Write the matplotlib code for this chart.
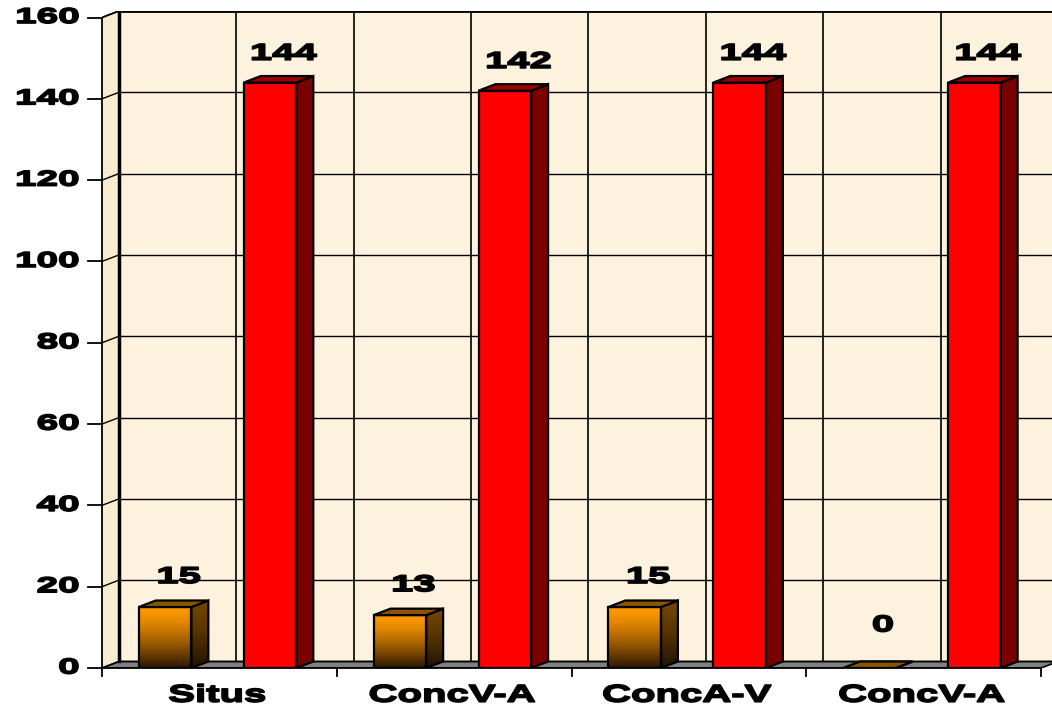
import numpy as np
import matplotlib.pyplot as plt
from matplotlib.patches import Polygon, Rectangle
from matplotlib import patheffects
from matplotlib.transforms import Affine2D

categories = ["Situs", "ConcV-A", "ConcA-V", "ConcV-A"]
series_a = [15, 13, 15, 0]
series_b = [144, 142, 144, 144]
yticks = [0, 20, 40, 60, 80, 100, 120, 140, 160]

# 3d look: depth offset in data units
ddx = 0.072
ddy = 1.6
bar_w = 0.224
off_a = 0.157
off_b = 0.604


class HStretch(patheffects.AbstractPathEffect):
    # widen glyphs horizontally and thicken them a bit (the original text is stretched)
    def __init__(self, sx, anchor="center", lw=1.0):
        super().__init__()
        self.sx = sx
        self.anchor = anchor
        self.lw = lw

    def draw_path(self, renderer, gc, tpath, affine, rgbFace=None):
        v = tpath.vertices
        if len(v) == 0:
            return
        if self.anchor == "right":
            cx = v[:, 0].max()
        else:
            cx = (v[:, 0].min() + v[:, 0].max()) / 2
        t = Affine2D().translate(-cx, 0).scale(self.sx, 1).translate(cx, 0) + affine
        gc0 = renderer.new_gc()
        gc0.copy_properties(gc)
        gc0.set_linewidth(self.lw)
        gc0.set_foreground(rgbFace)
        gc0.set_joinstyle("round")
        renderer.draw_path(gc0, tpath, t, rgbFace)
        gc0.restore()


plt.rcParams["font.family"] = ["Liberation Sans", "DejaVu Sans"]
plt.rcParams["font.weight"] = "bold"

fig = plt.figure(figsize=(10.52, 7.11), dpi=100)
ax = fig.add_axes([102 / 1052, 43 / 711, 956 / 1052, 657 / 711])
ax.set_xlim(0, 4 + ddx)
ax.set_ylim(0, 160 + ddy)
ax.axis("off")

wall = "#fcf2de"
side = "#f7ebd0"

# back wall, side wall, floor
ax.add_patch(Rectangle((ddx, ddy), 4, 160, facecolor=wall, edgecolor="none", zorder=0))
ax.add_patch(Polygon([(0, 0), (0, 160), (ddx, 160 + ddy), (ddx, ddy)],
                     closed=True, facecolor=side, edgecolor="none", zorder=0))
ax.add_patch(Polygon([(0, 0), (4, 0), (4 + ddx, ddy), (ddx, ddy)],
                     closed=True, facecolor="#808080", edgecolor="black", lw=1.2, zorder=1))

# gridlines on back wall + side wall
for v in yticks:
    ax.plot([ddx, 4 + ddx], [v + ddy, v + ddy], color="black", lw=1.0, zorder=1)
    ax.plot([0, ddx], [v, v + ddy], color="black", lw=1.0, zorder=1)
for k in range(9):
    x = ddx + k * 0.5
    ax.plot([x, x], [ddy, 160 + ddy], color="black", lw=1.2, zorder=1)
ax.plot([ddx, ddx], [ddy, 160 + ddy], color="black", lw=2.5, zorder=1)
ax.plot([ddx, 4 + ddx], [160 + ddy, 160 + ddy], color="black", lw=2.0, zorder=1)
ax.plot([0, ddx], [160, 160 + ddy], color="black", lw=1.2, zorder=1)

# front axes
ax.plot([0, 0], [0, 160], color="black", lw=1.3, zorder=5, clip_on=False)
ax.plot([0, 4], [0, 0], color="black", lw=1.3, zorder=5, clip_on=False)
tick_dx = 14 / 234.75
for v in yticks:
    ax.plot([-tick_dx, 0], [v, v], color="black", lw=1.3, clip_on=False, zorder=5)
    ax.text(-0.098, v, str(v), ha="right", va="center", fontsize=15.5,
            fontweight="bold", clip_on=False,
            path_effects=[HStretch(1.8, "right", 1.2)])
for i in range(5):
    ax.plot([i, i], [0, -2.0], color="black", lw=1.3, clip_on=False, zorder=5)
for i, c in enumerate(categories):
    ax.text(i + 0.49, -6.7, c, ha="center", va="center", fontsize=17.5,
            fontweight="bold", clip_on=False,
            path_effects=[HStretch(1.65, "center", 1.2)])


def gradient_fill(poly, top_rgb, bot_rgb, y0, y1, z):
    n = 64
    t = np.linspace(0, 1, n)[:, None] ** 1.4
    img = np.array(top_rgb)[None, :] * (1 - t) + np.array(bot_rgb)[None, :] * t
    img = img[:, None, :]
    xs = [p[0] for p in poly.get_xy()]
    im = ax.imshow(img, extent=[min(xs), max(xs), y0, y1], origin="upper",
                   aspect="auto", zorder=z, interpolation="bilinear")
    im.set_clip_path(poly)


def bar3d(x, h, front, side_c, top_c, grad=False, z=3):
    fr = Polygon([(x, 0), (x + bar_w, 0), (x + bar_w, h), (x, h)], closed=True,
                 facecolor=front, edgecolor="black", lw=1.6, zorder=z + 0.2)
    sd = Polygon([(x + bar_w, 0), (x + bar_w + ddx, ddy), (x + bar_w + ddx, h + ddy),
                  (x + bar_w, h)], closed=True, facecolor=side_c, edgecolor="black",
                 lw=1.6, zorder=z + 0.2)
    tp = Polygon([(x, h), (x + bar_w, h), (x + bar_w + ddx, h + ddy), (x + ddx, h + ddy)],
                 closed=True, facecolor=top_c, edgecolor="black", lw=1.6, zorder=z + 0.2)
    if grad:
        fr.set_facecolor("none")
        sd.set_facecolor("none")
    ax.add_patch(fr)
    ax.add_patch(sd)
    ax.add_patch(tp)
    if grad and h > 0:
        gradient_fill(fr, (1.0, 0.60, 0.0), (0.17, 0.09, 0.0), 0, h, z)
        gradient_fill(sd, (0.45, 0.27, 0.0), (0.12, 0.07, 0.0), 0, h + ddy, z)


for i in range(4):
    xa = i + off_a
    xb = i + off_b
    bar3d(xa, series_a[i], "#ff9900", "#6b4000", "#8a5500", grad=True)
    bar3d(xb, series_b[i], "#ff0000", "#7a0000", "#a00000")
    lab_a = 7.5 if series_a[i] > 0 else 10.6
    ax.text(xa + (bar_w + ddx) / 2 + 0.02, series_a[i] + lab_a, str(series_a[i]),
            ha="center", va="center", fontsize=16.5, fontweight="bold",
            path_effects=[HStretch(1.75, "center", 1.2)])
    ax.text(xb + (bar_w + ddx) / 2 + 0.02, series_b[i] + 7.2, str(series_b[i]),
            ha="center", va="center", fontsize=16.5, fontweight="bold",
            path_effects=[HStretch(1.75, "center", 1.2)])

fig.savefig("out.png", dpi=100)
